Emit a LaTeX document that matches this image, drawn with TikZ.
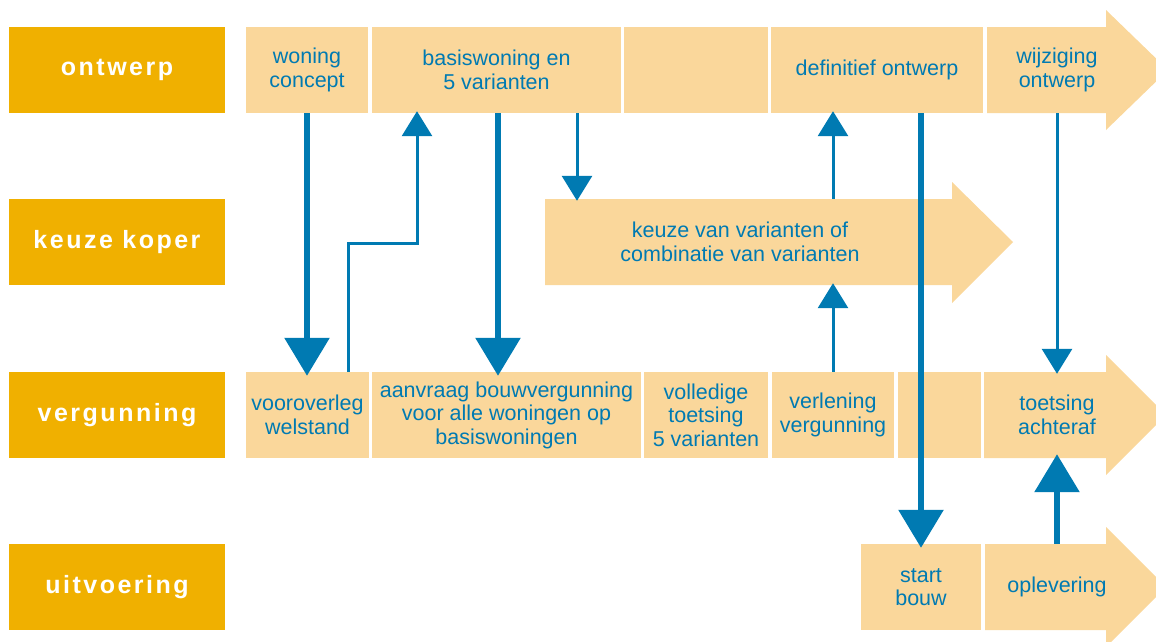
\documentclass[tikz,border=0pt]{standalone}
\usepackage{fontspec}
\setmainfont{Liberation Sans}
\newfontfamily\labelfont[LetterSpace=10,UprightFont={* Bold}]{Liberation Sans}
\usetikzlibrary{arrows.meta,calc}
\definecolor{lbl}{RGB}{240,176,0}
\definecolor{cellc}{RGB}{250,215,155}
\definecolor{bl}{RGB}{0,122,178}
\tikzset{
  lane/.style={fill=lbl, text=white, font=\labelfont\fontsize{25}{28}\selectfont,
    minimum width=216pt, minimum height=86pt, inner sep=0pt},
  cell/.style={fill=cellc, text=bl, font=\fontsize{21.5}{23.5}\selectfont, align=center,
    minimum height=86pt, inner sep=0pt},
  tcell/.style={cell, fill=none},
  thickarr/.style={draw=bl, line width=6pt, -{Triangle[width=44pt,length=38pt]}, shorten >=-4pt},
  thinarr/.style={draw=bl, line width=3pt, -{Triangle[width=30pt,length=25pt]}, shorten >=-2pt},
}
\begin{document}
\begin{tikzpicture}[x=1pt,y=-1pt]
\useasboundingbox (0,0) rectangle (1156,641);
\clip (0,0) rectangle (1156,641);
% ontwerp row
\node[lane] (lo) at (117,70) {ontwerp};
\node[cell, minimum width=122pt] (c1) at (307,70) {woning\\concept};
\node[cell, minimum width=249pt] (c2) at (496.5,70) {basiswoning en\\5 varianten};
\node[cell, minimum width=144pt] (c3) at (696,70) {};
\node[cell, minimum width=212pt] (c4) at (877,70) {definitief ontwerp};
\fill[cellc] (987,27) -- (1106,27) -- (1106,10) -- (1168,70) -- (1106,130) -- (1106,113) -- (987,113) -- cycle;
\node[tcell, minimum width=100pt] (c5) at (1057,70) {wijziging\\ontwerp};
% keuze koper row
\node[lane] (lk) at (117,242) {keuze koper};
\fill[cellc] (545,199) -- (952,199) -- (952,182) -- (1013,242) -- (952,303) -- (952,285) -- (545,285) -- cycle;
\node[tcell, minimum width=390pt] (k1) at (740,242) {keuze van varianten of\\combinatie van varianten};
% vergunning row
\node[lane] (lv) at (117,415) {vergunning};
\node[cell, minimum width=123pt] (v1) at (307.5,415) {vooroverleg\\welstand};
\node[cell, minimum width=269pt] (v2) at (506.5,415) {aanvraag bouwvergunning\\voor alle woningen op\\basiswoningen};
\node[cell, minimum width=124pt] (v3) at (706,415) {volledige\\toetsing\\5 varianten};
\node[cell, minimum width=122pt] (v4) at (833,415) {verlening\\vergunning};
\node[cell, minimum width=83pt] (v5) at (939.5,415) {};
\fill[cellc] (984,372) -- (1106,372) -- (1106,355) -- (1166,415) -- (1106,475) -- (1106,458) -- (984,458) -- cycle;
\node[tcell, minimum width=100pt] (v6) at (1057,415) {toetsing\\achteraf};
% uitvoering row
\node[lane] (lu) at (117,587) {uitvoering};
\node[cell, minimum width=120pt] (u1) at (921,587) {start\\bouw};
\fill[cellc] (985,544) -- (1106,544) -- (1106,527) -- (1166,587) -- (1106,647) -- (1106,630) -- (985,630) -- cycle;
\node[tcell, minimum width=100pt] (u2) at (1057,587) {oplevering};
% connectors
\draw[thickarr] (c1.south) -- (c1.south |- v1.north);
\coordinate (e1) at (417,243);
\draw[thinarr] ([xshift=40.5pt]v1.north) |- (e1) -- (e1 |- c2.south);
\draw[thickarr] ([xshift=1.5pt]c2.south) -- ([xshift=1.5pt]c2.south |- v2.north);
\draw[thinarr] ([xshift=80.5pt]c2.south) -- ([xshift=80.5pt]c2.south |- k1.north);
\draw[thinarr] ([xshift=-44pt]c4.south |- k1.north) -- ([xshift=-44pt]c4.south);
\draw[thinarr] (v4.north) -- (v4.north |- k1.south);
\draw[thickarr] (u1.north |- c4.south) -- (u1.north);
\draw[thinarr] (c5.south) -- (c5.south |- v6.north);
\draw[thickarr] (u2.north) -- (u2.north |- v6.south);
\end{tikzpicture}
\end{document}
